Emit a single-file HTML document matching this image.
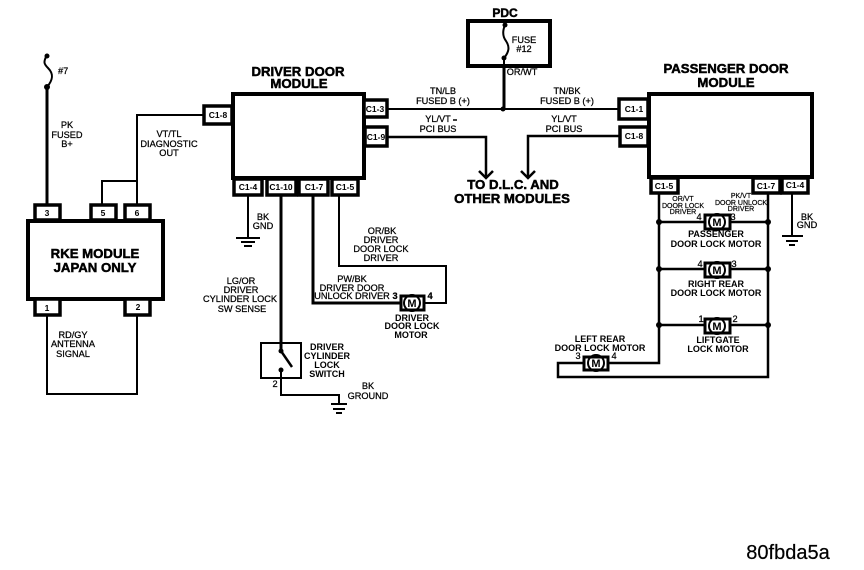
<!DOCTYPE html>
<html><head><meta charset="utf-8">
<style>
html,body{margin:0;padding:0;background:#fff;width:864px;height:570px;overflow:hidden}
svg{display:block}
text{font-family:"Liberation Sans",sans-serif;fill:#000;text-anchor:middle}
.h{font-size:13.2px;font-weight:700;stroke:#000;stroke-width:.5px}
.l{font-size:9.2px;stroke:#000;stroke-width:.25px}
.m{font-size:9px;font-weight:700}
.s{font-size:7px;stroke:#000;stroke-width:.2px}
.c{font-size:8.5px;font-weight:700}
.w2{fill:none;stroke:#000;stroke-width:2}
.b{fill:#fff;stroke:#000;stroke-width:4}
.bt{fill:#fff;stroke:#000;stroke-width:3.5}
</style></head><body>
<svg width="864" height="570" viewBox="0 0 864 570" xmlns="http://www.w3.org/2000/svg">
<rect width="864" height="570" fill="#fff"/>
<g class="w2">
<path d="M47 87V204" stroke-width="3"/>
<path d="M47 55C43 62 44 64 48 68C54 74 53 80 47 87"/>
<path d="M137 204V115H204M102 204V181H137"/>
<path d="M47 316V394H137V316"/>
<path d="M248 195V237"/>
<path d="M281 195V352" stroke-width="3"/>
<path d="M313 195V303H402" stroke-width="3"/>
<path d="M339 195V266H446V303H423"/>
<path d="M281 370V395H339V403"/>
<path d="M281 351L292 367" stroke-width="2.5"/>
<path d="M387 109H620"/>
<path d="M504 66V109" stroke-width="3"/>
<path d="M505 25C502 32 503 37 506 41C510 47 509 52 504 58V66"/>
<path d="M387 137H486V178" stroke-width="2.5"/>
<path d="M620 136H528V178" stroke-width="2.5"/>
<path d="M479 171L486 178L493 171M521 171L528 178L535 171" stroke-width="2.5"/>
<path d="M659 193V363H608" stroke-width="2.5"/>
<path d="M768 193V377H558V363H583" stroke-width="2.5"/>
<path d="M792 193V235"/>
<path d="M659 222H705M730 222H768M659 269H705M730 269H768M659 325H705M730 325H768" stroke-width="2.5"/>
<path d="M453 120H457" stroke-width="1.5"/>
</g>
<!-- grounds -->
<g stroke="#000" stroke-width="2">
<path d="M236 238H260M241 242H255M244 246H252"/>
<path d="M331 404H347M333 409H345M336 413H342"/>
<path d="M782 236H803M786 241H798M789 245H795"/>
</g>
<!-- dots -->
<g fill="#000">
<circle cx="47" cy="56" r="2.5"/><circle cx="47" cy="87" r="3"/>
<circle cx="505" cy="25" r="2.5"/><circle cx="504" cy="58" r="2.5"/><circle cx="503" cy="109" r="2.5"/>
<circle cx="281" cy="351" r="2.5"/><circle cx="281" cy="370" r="2.5"/>
<circle cx="659" cy="222" r="3"/><circle cx="768" cy="222" r="3"/>
<circle cx="659" cy="269" r="3"/><circle cx="768" cy="269" r="3"/>
<circle cx="659" cy="325" r="3"/><circle cx="768" cy="325" r="3"/>
</g>
<!-- boxes -->
<rect class="b" x="28" y="221" width="135" height="78"/>
<rect class="b" x="233" y="94" width="131" height="84"/>
<rect class="b" x="649" y="94" width="163" height="83"/>
<rect x="468" y="21" width="82" height="45" fill="none" stroke="#000" stroke-width="4"/>
<rect x="261" y="343" width="40" height="35" fill="none" stroke="#000" stroke-width="2"/>
<!-- connector tabs -->
<g>
<rect class="bt" x="35" y="205" width="25" height="15"/>
<rect class="bt" x="91" y="205" width="25" height="15"/>
<rect class="bt" x="125" y="205" width="25" height="15"/>
<rect class="bt" x="35" y="299" width="25" height="16"/>
<rect class="bt" x="125" y="299" width="25" height="16"/>
<rect class="bt" x="204" y="106" width="28" height="18"/>
<rect class="bt" x="234" y="179" width="28" height="16"/>
<rect class="bt" x="267" y="179" width="29" height="16"/>
<rect class="bt" x="299" y="179" width="29" height="16"/>
<rect class="bt" x="332" y="179" width="26" height="16"/>
<rect class="bt" x="364" y="100" width="23" height="17"/>
<rect class="bt" x="365" y="127" width="22" height="19"/>
<rect class="bt" x="619" y="99" width="29" height="20"/>
<rect class="bt" x="620" y="127" width="28" height="19"/>
<rect class="bt" x="651" y="178" width="27" height="15"/>
<rect class="bt" x="753" y="178" width="27" height="15"/>
<rect class="bt" x="782" y="178" width="26" height="15"/>
</g>
<!-- motors -->
<g fill="#fff" stroke="#000" stroke-width="3">
<rect x="401" y="296" width="23" height="14"/>
<rect x="705" y="215" width="25" height="14"/>
<rect x="705" y="263" width="25" height="14"/>
<rect x="705" y="319" width="25" height="14"/>
<rect x="584" y="357" width="24" height="13"/>
</g>
<g fill="none" stroke="#000" stroke-width="2">
<circle cx="412" cy="303" r="8"/><circle cx="717" cy="222" r="8"/><circle cx="717" cy="270" r="8"/><circle cx="717" cy="326" r="8"/><circle cx="596" cy="363" r="8"/>
</g>
<text x="412" y="307" style="font-size:11px;font-weight:700">M</text>
<text x="717" y="226" style="font-size:11px;font-weight:700">M</text>
<text x="717" y="274" style="font-size:11px;font-weight:700">M</text>
<text x="717" y="330" style="font-size:11px;font-weight:700">M</text>
<text x="596" y="367" style="font-size:11px;font-weight:700">M</text>
<!-- connector labels -->
<text class="c" x="47" y="216">3</text><text class="c" x="103" y="216">5</text><text class="c" x="137" y="216">6</text>
<text class="c" x="47" y="311">1</text><text class="c" x="138" y="310">2</text>
<text class="c" x="218" y="118">C1-8</text>
<text class="c" x="248" y="190">C1-4</text><text class="c" x="281" y="190">C1-10</text><text class="c" x="314" y="190">C1-7</text><text class="c" x="345" y="190">C1-5</text>
<text class="c" x="375" y="112">C1-3</text><text class="c" x="376" y="140">C1-9</text>
<text class="c" x="634" y="112">C1-1</text><text class="c" x="634" y="139">C1-8</text>
<text class="c" x="664" y="189">C1-5</text><text class="c" x="766" y="189">C1-7</text><text class="c" x="795" y="188">C1-4</text>
<!-- headings -->
<text class="h" x="95" y="258">RKE MODULE</text><text class="h" x="95" y="272">JAPAN ONLY</text>
<text class="h" x="298" y="76">DRIVER DOOR</text><text class="h" x="299" y="88">MODULE</text>
<text class="h" x="726" y="73">PASSENGER DOOR</text><text class="h" x="726" y="87">MODULE</text>
<text class="h" x="505" y="17" style="font-size:12px">PDC</text>
<text class="h" x="513" y="189">TO D.L.C. AND</text><text class="h" x="512" y="203">OTHER MODULES</text>
<!-- wire labels -->
<text class="l" x="58" y="74" style="text-anchor:start">#7</text>
<text class="l" x="67" y="128">PK</text><text class="l" x="67" y="138">FUSED</text><text class="l" x="67" y="147">B+</text>
<text class="l" x="169" y="137">VT/TL</text><text class="l" x="169" y="147">DIAGNOSTIC</text><text class="l" x="169" y="156">OUT</text>
<text class="l" x="73" y="338">RD/GY</text><text class="l" x="73" y="347">ANTENNA</text><text class="l" x="73" y="357">SIGNAL</text>
<text class="l" x="263" y="220">BK</text><text class="l" x="263" y="229">GND</text>
<text class="l" x="382" y="234">OR/BK</text><text class="l" x="381" y="243">DRIVER</text><text class="l" x="381" y="252">DOOR LOCK</text><text class="l" x="381" y="261">DRIVER</text>
<text class="l" x="352" y="282">PW/BK</text><text class="l" x="352" y="291">DRIVER DOOR</text><text class="l" x="352" y="299">UNLOCK DRIVER</text>
<text class="l" x="395" y="299" style="font-weight:700">3</text><text class="l" x="430" y="299" style="font-weight:700">4</text>
<text class="l" x="241" y="284">LG/OR</text><text class="l" x="241" y="293">DRIVER</text><text class="l" x="240" y="302">CYLINDER LOCK</text><text class="l" x="242" y="312">SW SENSE</text>
<text class="m" x="412" y="321">DRIVER</text><text class="m" x="412" y="329">DOOR LOCK</text><text class="m" x="411" y="338">MOTOR</text>
<text class="m" x="327" y="350">DRIVER</text><text class="m" x="327" y="359">CYLINDER</text><text class="m" x="327" y="368">LOCK</text><text class="m" x="327" y="377">SWITCH</text>
<text class="l" x="275" y="387">2</text>
<text class="l" x="368" y="389">BK</text><text class="l" x="368" y="399">GROUND</text>
<text class="l" x="524" y="43">FUSE</text><text class="l" x="524" y="52">#12</text>
<text class="l" x="522" y="75">OR/WT</text>
<text class="l" x="443" y="94">TN/LB</text><text class="l" x="443" y="104">FUSED B (+)</text>
<text class="l" x="567" y="94">TN/BK</text><text class="l" x="567" y="104">FUSED B (+)</text>
<text class="l" x="438" y="122">YL/VT</text><text class="l" x="438" y="132">PCI BUS</text>
<text class="l" x="564" y="122">YL/VT</text><text class="l" x="564" y="132">PCI BUS</text>
<text class="l" x="807" y="220">BK</text><text class="l" x="807" y="228">GND</text>
<text class="s" x="683" y="201">OR/VT</text><text class="s" x="683" y="208">DOOR LOCK</text><text class="s" x="683" y="214">DRIVER</text>
<text class="s" x="741" y="198">PK/VT</text><text class="s" x="741" y="205">DOOR UNLOCK</text><text class="s" x="741" y="211">DRIVER</text>
<text class="l" x="699" y="220">4</text><text class="l" x="733" y="220">3</text>
<text class="l" x="700" y="267">4</text><text class="l" x="734" y="267">3</text>
<text class="l" x="701" y="322">1</text><text class="l" x="735" y="322">2</text>
<text class="l" x="578" y="359">3</text><text class="l" x="614" y="359">4</text>
<text class="m" x="716" y="237">PASSENGER</text><text class="m" x="716" y="247">DOOR LOCK MOTOR</text>
<text class="m" x="716" y="287">RIGHT REAR</text><text class="m" x="716" y="296">DOOR LOCK MOTOR</text>
<text class="m" x="718" y="343">LIFTGATE</text><text class="m" x="718" y="352">LOCK MOTOR</text>
<text class="m" x="600" y="342">LEFT REAR</text><text class="m" x="600" y="351">DOOR LOCK MOTOR</text>
<text x="788" y="559" style="font-size:20px;stroke:#000;stroke-width:.2px">80fbda5a</text>
</svg>
</body></html>
